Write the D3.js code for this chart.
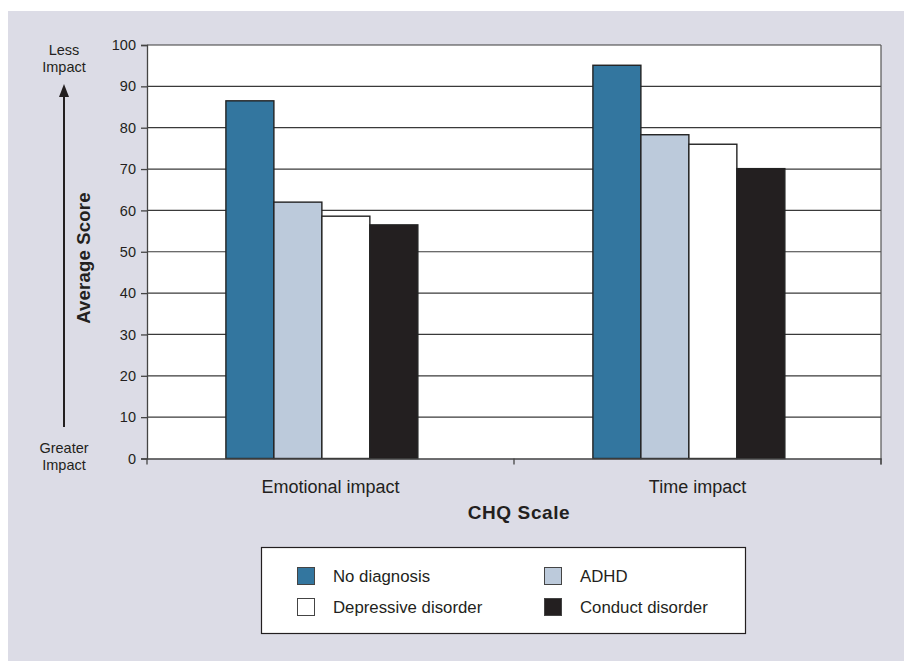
<!DOCTYPE html>
<html><head><meta charset="utf-8">
<script src="https://cdn.jsdelivr.net/npm/d3@7/dist/d3.min.js"></script>
<style>body{margin:0;background:#fff;} svg{display:block;font-family:"Liberation Sans",Arial,sans-serif;}</style>
</head><body><svg id="c" width="904" height="661"></svg>
<script>
const categories = ["Emotional impact", "Time impact"];
const series = ["No diagnosis", "ADHD", "Depressive disorder", "Conduct disorder"];
const noDiagnosis = [86.5, 95.1];
const adhd = [62.0, 78.3];
const depressive = [58.6, 76.0];
const conduct = [56.5, 70.1];
const yTicks = [0,10,20,30,40,50,60,70,80,90,100];
const colors = ["#33769f", "#bccadb", "#ffffff", "#231f20"];
const values = [noDiagnosis, adhd, depressive, conduct];

const svg = d3.select("#c");
svg.append("rect").attr("x",8).attr("y",11).attr("width",896).attr("height",650).attr("fill","#dcdce6");

const L=147, R=881, T=45, B=458.5;
const y = d3.scaleLinear().domain([0,100]).range([B,T]);
const x0 = d3.scaleBand().domain(categories).range([L,R]);
const bw = x0.bandwidth();
const x1 = d3.scaleBand().domain(series).range([bw*0.215, bw*0.738]);

svg.append("rect").attr("x",L).attr("y",T).attr("width",R-L).attr("height",B-T).attr("fill","#fff");
// grid
svg.append("g").selectAll("line").data(yTicks.filter(d=>d>0)).join("line")
  .attr("x1",L).attr("x2",R).attr("y1",d=>y(d)).attr("y2",d=>y(d))
  .attr("stroke","#3a3a3a").attr("stroke-width",1.2);
svg.append("line").attr("x1",R).attr("x2",R).attr("y1",T).attr("y2",B+6).attr("stroke","#555").attr("stroke-width",1.2);

// bars
const rows = [];
series.forEach((s,i)=>categories.forEach((c,j)=>rows.push({s,c,v:values[i][j],col:colors[i]})));
svg.append("g").selectAll("rect").data(rows).join("rect")
  .attr("x",d=>x0(d.c)+x1(d.s)).attr("width",x1.bandwidth())
  .attr("y",d=>y(d.v)).attr("height",d=>B-y(d.v))
  .attr("fill",d=>d.col).attr("stroke","#222").attr("stroke-width",1.4);

// y axis
const ya = svg.append("g").attr("transform",`translate(${L},0)`)
  .call(d3.axisLeft(y).tickValues(yTicks).tickSize(6).tickPadding(5));
ya.select(".domain").attr("stroke","#444").attr("stroke-width",1.3);
ya.selectAll(".tick line").attr("stroke","#444").attr("stroke-width",1.3);
ya.selectAll("text").attr("font-size",14.5).attr("fill","#231f20").attr("font-family","Liberation Sans, Arial, sans-serif");

// x axis
const xa = svg.append("g").attr("transform",`translate(0,${B})`)
  .call(d3.axisBottom(x0).tickSize(0).tickPadding(22));
xa.select(".domain").attr("stroke","#444").attr("stroke-width",1.3);
xa.selectAll("text").attr("font-size",18).attr("fill","#231f20").attr("font-family","Liberation Sans, Arial, sans-serif");
svg.append("g").selectAll("line").data([L, x0(categories[1]), R]).join("line")
  .attr("x1",d=>d).attr("x2",d=>d).attr("y1",B).attr("y2",B+6).attr("stroke","#444").attr("stroke-width",1.3);

svg.append("text").attr("x",519).attr("y",519).attr("text-anchor","middle").attr("font-size",19).attr("letter-spacing",0.6).attr("font-weight","bold").attr("fill","#231f20").text("CHQ Scale");
svg.append("text").attr("transform","translate(90,258) rotate(-90)").attr("text-anchor","middle").attr("font-size",18.5).attr("letter-spacing",0.2).attr("font-weight","bold").attr("fill","#231f20").text("Average Score");

// arrow
svg.append("line").attr("x1",64).attr("x2",64).attr("y1",427).attr("y2",95).attr("stroke","#231f20").attr("stroke-width",2);
svg.append("path").attr("d","M64,84 L59,97 L69,97 Z").attr("fill","#231f20");
const sm = [["Less",55],["Impact",72],["Greater",453],["Impact",470]];
svg.append("g").selectAll("text").data(sm).join("text").attr("x",64).attr("y",d=>d[1]).attr("text-anchor","middle")
  .attr("font-size",14.5).attr("fill","#231f20").text(d=>d[0]);

// legend
svg.append("rect").attr("x",261.5).attr("y",547.5).attr("width",484).attr("height",86).attr("fill","#fff").attr("stroke","#231f20").attr("stroke-width",1.2);
const lg = [{s:series[0],c:colors[0],x:297,y:567},{s:series[1],c:colors[1],x:544,y:567},{s:series[2],c:colors[2],x:297,y:598},{s:series[3],c:colors[3],x:544,y:598}];
const g = svg.append("g").selectAll("g").data(lg).join("g").attr("transform",d=>`translate(${d.x},${d.y})`);
g.append("rect").attr("x",0.5).attr("y",0.5).attr("width",17).attr("height",17).attr("fill",d=>d.c).attr("stroke","#444").attr("stroke-width",1);
g.append("text").attr("x",36).attr("y",14.5).attr("font-size",16.8).attr("fill","#231f20").text(d=>d.s);
</script></body></html>
